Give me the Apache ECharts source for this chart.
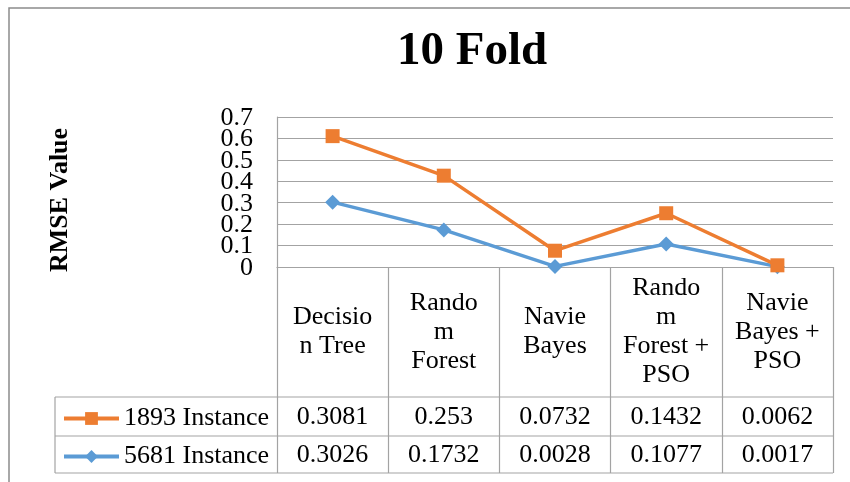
<!DOCTYPE html>
<html>
<head>
<meta charset="utf-8">
<script src="https://cdn.jsdelivr.net/npm/echarts@6/dist/echarts.min.js"></script>
<style>
html,body{margin:0;padding:0;background:#fff;}
#c{width:850px;height:482px;}
</style>
</head>
<body>
<div id="c"></div>
<script>
// ---- data ----
var categories = ['Decisio\nn Tree', 'Rando\nm\nForest', 'Navie\nBayes', 'Rando\nm\nForest +\nPSO', 'Navie\nBayes +\nPSO'];
var seriesNames = ['1893 Instance', '5681 Instance'];
var inst1893 = [0.3081, 0.253, 0.0732, 0.1432, 0.0062];
var inst5681 = [0.3026, 0.1732, 0.0028, 0.1077, 0.0017];
var tableLabels1893 = ['0.3081', '0.253', '0.0732', '0.1432', '0.0062'];
var tableLabels5681 = ['0.3026', '0.1732', '0.0028', '0.1077', '0.0017'];
var yTickValues = [0, 0.1, 0.2, 0.3, 0.4, 0.5, 0.6, 0.7];
var yTickLabels = ['0', '0.1', '0.2', '0.3', '0.4', '0.5', '0.6', '0.7'];
var titleText = '10 Fold';
var yName = 'RMSE Value';

// ---- layout ----
var FONT = '"Liberation Serif", "Times New Roman", serif';
var FS = 26;
var GL = 277, GR = 833, GT = 117, GB = 267;
var TL = 55, ROW1 = 397, ROW2 = 436, ROW3 = 473;
var LINE = '#a3a3a3';
var ORANGE = '#ED7D31', BLUE = '#5B9BD5';

var chart = echarts.init(document.getElementById('c'), null, { renderer: 'canvas' });

function legendFor(name, yc) {
  return {
    data: [name], orient: 'horizontal', left: 62, top: yc - 11, padding: 0,
    itemWidth: 55, itemHeight: 16, itemGap: 0,
    lineStyle: { width: 4 },
    textStyle: { fontFamily: FONT, fontSize: FS, color: '#000' }
  };
}

var option = {
  animation: false,
  title: {
    text: titleText, left: 467, top: 23, textAlign: 'center',
    textStyle: { fontFamily: FONT, fontWeight: 'bold', fontSize: 47, color: '#000' }
  },
  legend: [legendFor(seriesNames[0], (ROW1 + ROW2) / 2), legendFor(seriesNames[1], (ROW2 + ROW3) / 2)],
  grid: { left: GL, right: 850 - GR, top: GT, bottom: 482 - GB, containLabel: false },
  xAxis: {
    type: 'category', data: categories, boundaryGap: true,
    axisLine: { show: true, lineStyle: { color: LINE, width: 1.2 } },
    axisTick: { show: true, length: ROW3 - GB, lineStyle: { color: LINE, width: 1.2 } },
    axisLabel: { interval: 0, margin: (ROW1 - GB) / 2, verticalAlign: 'middle', align: 'center',
      fontFamily: FONT, fontSize: FS, color: '#000', lineHeight: 29 },
    splitLine: { show: false }
  },
  yAxis: {
    type: 'value', min: yTickValues[0], max: yTickValues[yTickValues.length - 1],
    interval: yTickValues[1] - yTickValues[0],
    axisLine: { show: true, lineStyle: { color: LINE, width: 1.2 } },
    axisTick: { show: false },
    axisLabel: { show: false },
    splitLine: { show: true, lineStyle: { color: LINE, width: 1.2 } }
  },
  series: [
    { name: '5681 Instance', type: 'line', stack: 'total', data: inst5681,
      symbol: 'diamond', symbolSize: 15, showAllSymbol: true,
      lineStyle: { color: BLUE, width: 3.5 }, itemStyle: { color: BLUE } },
    { name: '1893 Instance', type: 'line', stack: 'total', data: inst1893,
      symbol: 'rect', symbolSize: 14, showAllSymbol: true,
      lineStyle: { color: ORANGE, width: 3.5 }, itemStyle: { color: ORANGE } }
  ]
};
chart.setOption(option);

// ---- table, tick labels, axis name (positions from the chart's scales) ----
var graphics = [];
graphics.push({ type: 'rect', shape: { x: 9, y: 8, width: 900, height: 520 }, style: { fill: null, stroke: '#8c8c8c', lineWidth: 1.5 }, silent: true });
[ROW1, ROW2, ROW3].forEach(function (y) {
  graphics.push({ type: 'line', shape: { x1: TL, y1: y, x2: GR, y2: y }, style: { stroke: LINE, lineWidth: 1.2 }, silent: true });
});
graphics.push({ type: 'line', shape: { x1: TL, y1: ROW1, x2: TL, y2: ROW3 }, style: { stroke: LINE, lineWidth: 1.2 }, silent: true });
function addRow(labels, yc) {
  labels.forEach(function (t, i) {
    var x = chart.convertToPixel({ xAxisIndex: 0 }, i);
    graphics.push({ type: 'text', x: x, y: yc, silent: true,
      style: { text: t, font: FS + 'px ' + FONT, fill: '#000', align: 'center', verticalAlign: 'middle' } });
  });
}
addRow(tableLabels1893, (ROW1 + ROW2) / 2 + 1);
addRow(tableLabels5681, (ROW2 + ROW3) / 2 + 1);
yTickValues.forEach(function (v, i) {
  var y = chart.convertToPixel({ yAxisIndex: 0 }, v);
  graphics.push({ type: 'text', x: GL - 24, y: y + 1, silent: true,
    style: { text: yTickLabels[i], font: FS + 'px ' + FONT, fill: '#000', align: 'right', verticalAlign: 'middle' } });
});
graphics.push({ type: 'text', x: 60, y: 200, rotation: Math.PI / 2, silent: true,
  style: { text: yName, font: 'bold ' + FS + 'px ' + FONT, fill: '#000', align: 'center', verticalAlign: 'middle' } });
chart.setOption({ graphic: graphics });
</script>
</body>
</html>
